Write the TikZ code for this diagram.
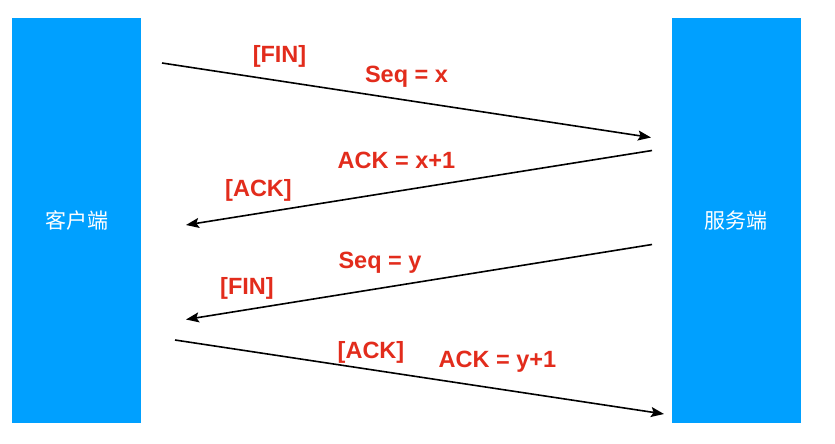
\documentclass[tikz,border=0pt]{standalone}
\usepackage{fontspec}
\setmainfont{Liberation Sans}
\newfontfamily\cjk{Noto Sans CJK SC}
\usepackage{tikz}
\usetikzlibrary{arrows.meta}

\definecolor{hostblue}{RGB}{0,160,255}
\definecolor{msgred}{RGB}{226,44,28}

\begin{document}
\begin{tikzpicture}[x=1pt, y=-1pt,
		host/.style={fill=hostblue, draw=none, inner sep=0pt, minimum width=129pt, minimum height=405pt, text=white, font=\cjk\fontsize{21}{25}\selectfont},
		msg/.style={text=msgred, anchor=base, inner sep=0pt, font=\bfseries\fontsize{23.5}{28}\selectfont},
		packet/.style={-{Stealth[length=13pt, width=10pt, inset=2.5pt]}, line width=1.6pt, black}]
	\useasboundingbox (0,0) rectangle (835,444);
	
	% Draw the two hosts
	\node[host] (client) at (76.5,220.5) {客户端};
	\node[host] (server) at (736,220.5) {服务端};
	
	% Mark the ends of the four segments
	\coordinate (fin1s) at (162,63);
	\coordinate (fin1e) at (651,137.5);
	\coordinate (ack1s) at (652,150.5);
	\coordinate (ack1e) at (186,225);
	\coordinate (fin2s) at (652,244.5);
	\coordinate (fin2e) at (186,319.5);
	\coordinate (ack2s) at (175,340);
	\coordinate (ack2e) at (664,414);
	
	% Draw the segments
	\draw[packet] (fin1s) -- (fin1e);
	\draw[packet] (ack1s) -- (ack1e);
	\draw[packet] (fin2s) -- (fin2e);
	\draw[packet] (ack2s) -- (ack2e);
	
	% Label the segments
	\node[msg] (fin1flag) at (279.5,63) {[FIN]};
	\node[msg] (fin1seq) at (406.5,82) {Seq = x};
	\node[msg] (ack1num) at (396.5,168) {ACK = x+1};
	\node[msg] (ack1flag) at (258.5,196) {[ACK]};
	\node[msg] (fin2seq) at (380,268) {Seq = y};
	\node[msg] (fin2flag) at (247,294) {[FIN]};
	\node[msg] (ack2flag) at (371,358) {[ACK]};
	\node[msg] (ack2num) at (497.5,367) {ACK = y+1};
\end{tikzpicture}
\end{document}
